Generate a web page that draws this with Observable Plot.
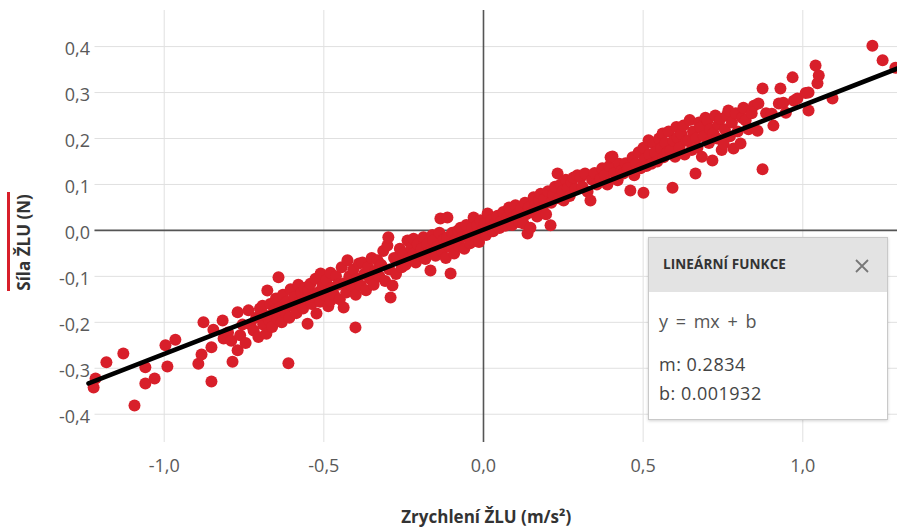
<!DOCTYPE html>
<html>
<head>
<meta charset="utf-8">
<script src="https://cdn.jsdelivr.net/npm/d3@7"></script>
<script src="https://cdn.jsdelivr.net/npm/@observablehq/plot@0.6"></script>
<style>
  html, body { margin: 0; padding: 0; background: #fff; }
  #wrap { position: relative; width: 897px; height: 528px; overflow: hidden; font-family: "Open Sans", "Noto Sans", sans-serif; }
  #ybar { position: absolute; left: 7px; top: 192px; width: 2.5px; height: 99px; background: #d81f2a; }
  #legend { position: absolute; left: 648px; top: 237px; width: 240px; height: 183px; background: #fff;
            border: 1px solid #c9c9c9; box-shadow: 0 1px 3px rgba(0,0,0,0.18); box-sizing: border-box; }
  #legend .head { height: 54px; background: #e3e3e3; position: relative; }
  #legend .title { position: absolute; left: 14px; top: 17px; font-size: 13.5px; font-weight: 700; color: #333; letter-spacing: 0.1px; }
  #legend svg.close { position: absolute; left: 205px; top: 20px; }
  #legend .eq { position: absolute; left: 10px; top: 71px; font-size: 18px; color: #555; word-spacing: 3px; }
  #legend .m { position: absolute; left: 10px; top: 114px; font-size: 18px; color: #444; letter-spacing: 0.5px; }
  #legend .b { position: absolute; left: 10px; top: 143px; font-size: 18px; color: #444; letter-spacing: 0.5px; }
</style>
</head>
<body>
<div id="wrap">
  <div id="chart"></div>
  <div id="ybar"></div>
  <div id="legend">
    <div class="head">
      <span class="title">LINEÁRNÍ FUNKCE</span>
      <svg class="close" width="16" height="16" viewBox="0 0 16 16"><path d="M2 2 L14 14 M14 2 L2 14" stroke="#777" stroke-width="1.8" fill="none"/></svg>
    </div>
    <div class="eq">y = mx + b</div>
    <div class="m">m: 0.2834</div>
    <div class="b">b: 0.001932</div>
  </div>
</div>
<script>
// Tick values
const xTicks = [-1.0, -0.5, 0.0, 0.5, 1.0];
const yTicks = [-0.4, -0.3, -0.2, -0.1, 0.0, 0.1, 0.2, 0.3, 0.4];

// Labels
const xLabel = "Zrychlení ŽLU (m/s²)";
const yLabel = "Síla ŽLU (N)";

// Fitted line as drawn (end points)
const fitAccel = [-1.237, 1.2966];
const fitForce = [-0.333, 0.3523];

// Samples: [acceleration (m/s²), force (N)]
const samples = [
  // far left
  [-1.221,-0.342],[-1.215,-0.322],[-1.181,-0.287],[-1.128,-0.268],[-1.093,-0.381],[-1.059,-0.298],[-1.059,-0.333],[-1.030,-0.322],[-0.996,-0.250],[-0.990,-0.296],[-0.965,-0.238],
  [-0.893,-0.290],[-0.877,-0.200],[-0.883,-0.270],[-0.852,-0.329],[-0.852,-0.254],[-0.846,-0.216],[-0.817,-0.196],[-0.814,-0.235],[-0.786,-0.286],[-0.770,-0.261],[-0.770,-0.178],[-0.800,-0.222],[-0.790,-0.240],[-0.762,-0.228],[-0.755,-0.205],
  // -0.75 .. -0.55
  [-0.745,-0.245],[-0.736,-0.174],[-0.730,-0.205],[-0.720,-0.218],[-0.712,-0.190],[-0.705,-0.232],[-0.700,-0.170],[-0.692,-0.164],[-0.690,-0.205],[-0.684,-0.185],[-0.680,-0.225],[-0.677,-0.131],[-0.672,-0.195],[-0.668,-0.160],[-0.662,-0.210],[-0.656,-0.175],[-0.650,-0.148],[-0.645,-0.192],[-0.642,-0.102],[-0.638,-0.168],[-0.632,-0.200],[-0.628,-0.140],[-0.622,-0.178],[-0.616,-0.155],[-0.611,-0.289],[-0.608,-0.190],[-0.604,-0.128],[-0.598,-0.165],[-0.592,-0.145],[-0.586,-0.180],[-0.580,-0.118],[-0.576,-0.155],[-0.570,-0.135],[-0.565,-0.170],[-0.560,-0.125],[-0.555,-0.150],
  // -0.55 .. -0.25
  [-0.551,-0.203],[-0.548,-0.130],[-0.542,-0.116],[-0.538,-0.160],[-0.532,-0.145],[-0.526,-0.105],[-0.523,-0.181],[-0.518,-0.135],[-0.512,-0.155],[-0.510,-0.094],[-0.504,-0.122],[-0.498,-0.140],[-0.492,-0.108],[-0.486,-0.165],[-0.479,-0.092],[-0.479,-0.153],[-0.474,-0.125],[-0.468,-0.140],[-0.462,-0.100],[-0.456,-0.118],[-0.450,-0.150],[-0.444,-0.080],[-0.438,-0.168],[-0.436,-0.115],[-0.430,-0.135],[-0.426,-0.065],[-0.420,-0.100],[-0.414,-0.120],[-0.408,-0.085],[-0.401,-0.211],[-0.400,-0.140],[-0.396,-0.105],[-0.390,-0.072],[-0.384,-0.120],[-0.379,-0.070],[-0.374,-0.095],[-0.368,-0.130],[-0.362,-0.080],[-0.356,-0.105],[-0.350,-0.060],[-0.344,-0.118],[-0.338,-0.088],[-0.332,-0.065],[-0.326,-0.100],[-0.320,-0.075],[-0.314,-0.045],[-0.308,-0.110],[-0.301,-0.033],[-0.298,-0.015],[-0.295,-0.085],[-0.291,-0.146],[-0.285,-0.120],[-0.280,-0.060],[-0.274,-0.095],[-0.269,-0.059],[-0.262,-0.040],[-0.256,-0.080],
  // -0.25 .. 0
  [-0.250,-0.050],[-0.244,-0.075],[-0.238,-0.022],[-0.232,-0.060],[-0.226,-0.038],[-0.219,-0.018],[-0.219,-0.050],[-0.212,-0.070],[-0.206,-0.030],[-0.200,-0.055],[-0.194,-0.040],[-0.188,-0.015],[-0.182,-0.062],[-0.176,-0.030],[-0.170,-0.048],[-0.166,-0.087],[-0.160,-0.010],[-0.157,-0.022],[-0.150,-0.055],[-0.144,-0.035],[-0.138,-0.005],[-0.135,0.026],[-0.130,-0.045],[-0.124,-0.020],[-0.118,-0.060],[-0.113,0.028],[-0.113,-0.015],[-0.108,-0.035],[-0.103,-0.094],[-0.098,-0.005],[-0.092,-0.050],[-0.086,-0.020],[-0.080,0.000],[-0.076,-0.035],[-0.072,0.006],[-0.066,-0.015],[-0.060,-0.040],[-0.054,0.012],[-0.048,-0.010],[-0.042,-0.028],[-0.036,0.005],[-0.031,0.028],[-0.026,-0.012],[-0.020,0.010],[-0.014,-0.025],[-0.009,0.022],[-0.004,0.000],
  // 0 .. 0.3
  [0.004,0.015],[0.008,-0.010],[0.013,0.037],[0.018,0.005],[0.024,0.022],[0.030,-0.002],[0.036,0.015],[0.044,0.032],[0.050,0.005],[0.056,0.020],[0.062,0.040],[0.068,0.010],[0.074,0.028],[0.080,0.050],[0.085,0.043],[0.090,0.012],[0.094,0.028],[0.100,0.055],[0.106,0.035],[0.112,0.018],[0.118,0.048],[0.125,0.015],[0.130,0.060],[0.134,0.035],[0.138,-0.007],[0.142,0.050],[0.147,0.006],[0.152,0.040],[0.157,0.072],[0.162,0.055],[0.168,0.030],[0.174,0.065],[0.179,0.080],[0.185,0.048],[0.190,0.068],[0.196,0.035],[0.202,0.085],[0.210,0.011],[0.212,0.060],[0.218,0.078],[0.224,0.095],[0.232,0.124],[0.236,0.070],[0.242,0.100],[0.248,0.085],[0.251,0.065],[0.258,0.110],[0.264,0.092],[0.270,0.075],[0.276,0.105],[0.282,0.115],[0.288,0.090],[0.294,0.120],[0.304,0.115],
  // 0.3 .. 0.5
  [0.310,0.095],[0.318,0.124],[0.326,0.084],[0.335,0.065],[0.340,0.110],[0.348,0.125],[0.355,0.100],[0.366,0.112],[0.372,0.135],[0.380,0.120],[0.388,0.100],[0.394,0.140],[0.398,0.159],[0.404,0.161],[0.410,0.125],[0.420,0.109],[0.425,0.145],[0.432,0.130],[0.438,0.124],[0.445,0.146],[0.452,0.135],[0.460,0.087],[0.467,0.159],[0.472,0.120],[0.478,0.145],[0.486,0.170],[0.492,0.135],[0.501,0.082],
  // 0.5 .. 0.85
  [0.501,0.180],[0.505,0.155],[0.510,0.140],[0.517,0.196],[0.520,0.165],[0.526,0.145],[0.532,0.189],[0.538,0.170],[0.544,0.150],[0.550,0.200],[0.556,0.178],[0.561,0.211],[0.564,0.159],[0.570,0.190],[0.576,0.170],[0.580,0.215],[0.586,0.174],[0.592,0.093],[0.595,0.195],[0.600,0.160],[0.604,0.225],[0.608,0.202],[0.614,0.180],[0.620,0.210],[0.626,0.228],[0.630,0.165],[0.636,0.195],[0.642,0.196],[0.646,0.240],[0.652,0.175],[0.656,0.215],[0.664,0.124],[0.666,0.200],[0.670,0.180],[0.675,0.235],[0.680,0.224],[0.684,0.160],[0.690,0.205],[0.695,0.245],[0.702,0.239],[0.706,0.190],[0.710,0.220],[0.717,0.152],[0.720,0.211],[0.726,0.250],[0.732,0.200],[0.736,0.230],[0.742,0.243],[0.746,0.175],[0.752,0.189],[0.756,0.220],[0.762,0.250],[0.767,0.261],[0.772,0.205],[0.778,0.235],[0.783,0.178],[0.790,0.255],[0.796,0.215],[0.805,0.189],[0.810,0.245],[0.814,0.267],[0.821,0.239],[0.830,0.220],[0.840,0.255],[0.847,0.271],
  // right end
  [0.858,0.217],[0.861,0.276],[0.874,0.133],[0.874,0.309],[0.885,0.255],[0.903,0.254],[0.908,0.228],[0.925,0.276],[0.930,0.309],[0.939,0.278],[0.947,0.256],[0.968,0.333],[0.972,0.282],[0.983,0.287],[1.009,0.299],[1.018,0.261],[1.018,0.300],[1.040,0.359],[1.046,0.320],[1.050,0.337],[1.093,0.287],[1.218,0.402],[1.250,0.370],[1.290,0.354]
];

const points = samples.map(([a, f]) => ({accel: a, force: f}));
const fit = fitAccel.map((a, i) => ({accel: a, force: fitForce[i]}));
const fmt = d => (d < 0 ? "-" : "") + Math.abs(d).toFixed(1).replace(".", ",");

const chart = Plot.plot({
  width: 897,
  height: 528,
  marginLeft: 94.5,
  marginRight: 0,
  marginTop: 10,
  marginBottom: 86,
  style: {fontFamily: "'Open Sans', 'Noto Sans', sans-serif", fontSize: "18px", color: "#595959", background: "transparent"},
  x: {domain: [-1.2167, 1.2966], axis: null},
  y: {domain: [-0.4615, 0.4785], axis: null},
  marks: [
    Plot.ruleX(xTicks, {stroke: "#e0e0e0", strokeWidth: 1}),
    Plot.ruleY(yTicks, {stroke: "#e0e0e0", strokeWidth: 1}),
    Plot.ruleX([0], {stroke: "#555", strokeWidth: 1.6}),
    Plot.ruleY([0], {stroke: "#555", strokeWidth: 1.8}),
    Plot.dot(points, {x: "accel", y: "force", r: 6, fill: "#d81f2a", stroke: "none"}),
    Plot.line(fit, {x: "accel", y: "force", stroke: "#000", strokeWidth: 4.6}),
    Plot.axisX(xTicks, {tickSize: 0, tickPadding: 17, tickFormat: fmt, label: null, fill: "#595959", fontSize: 18}),
    Plot.axisY(yTicks, {tickSize: 0, tickPadding: 5, tickFormat: fmt, label: null, fill: "#595959", fontSize: 18, dy: 3}),
    Plot.text([xLabel], {text: d => d, frameAnchor: "bottom", textAnchor: "middle", lineAnchor: "middle", dx: -10, dy: 75, fontWeight: "bold", fontSize: 17, fill: "#333"}),
    Plot.text([yLabel], {text: d => d, frameAnchor: "left", textAnchor: "middle", lineAnchor: "middle", rotate: -90, dx: -70, dy: 16, fontWeight: "bold", fontSize: 17, fill: "#333"})
  ]
});
document.getElementById("chart").appendChild(chart);
</script>
</body>
</html>
